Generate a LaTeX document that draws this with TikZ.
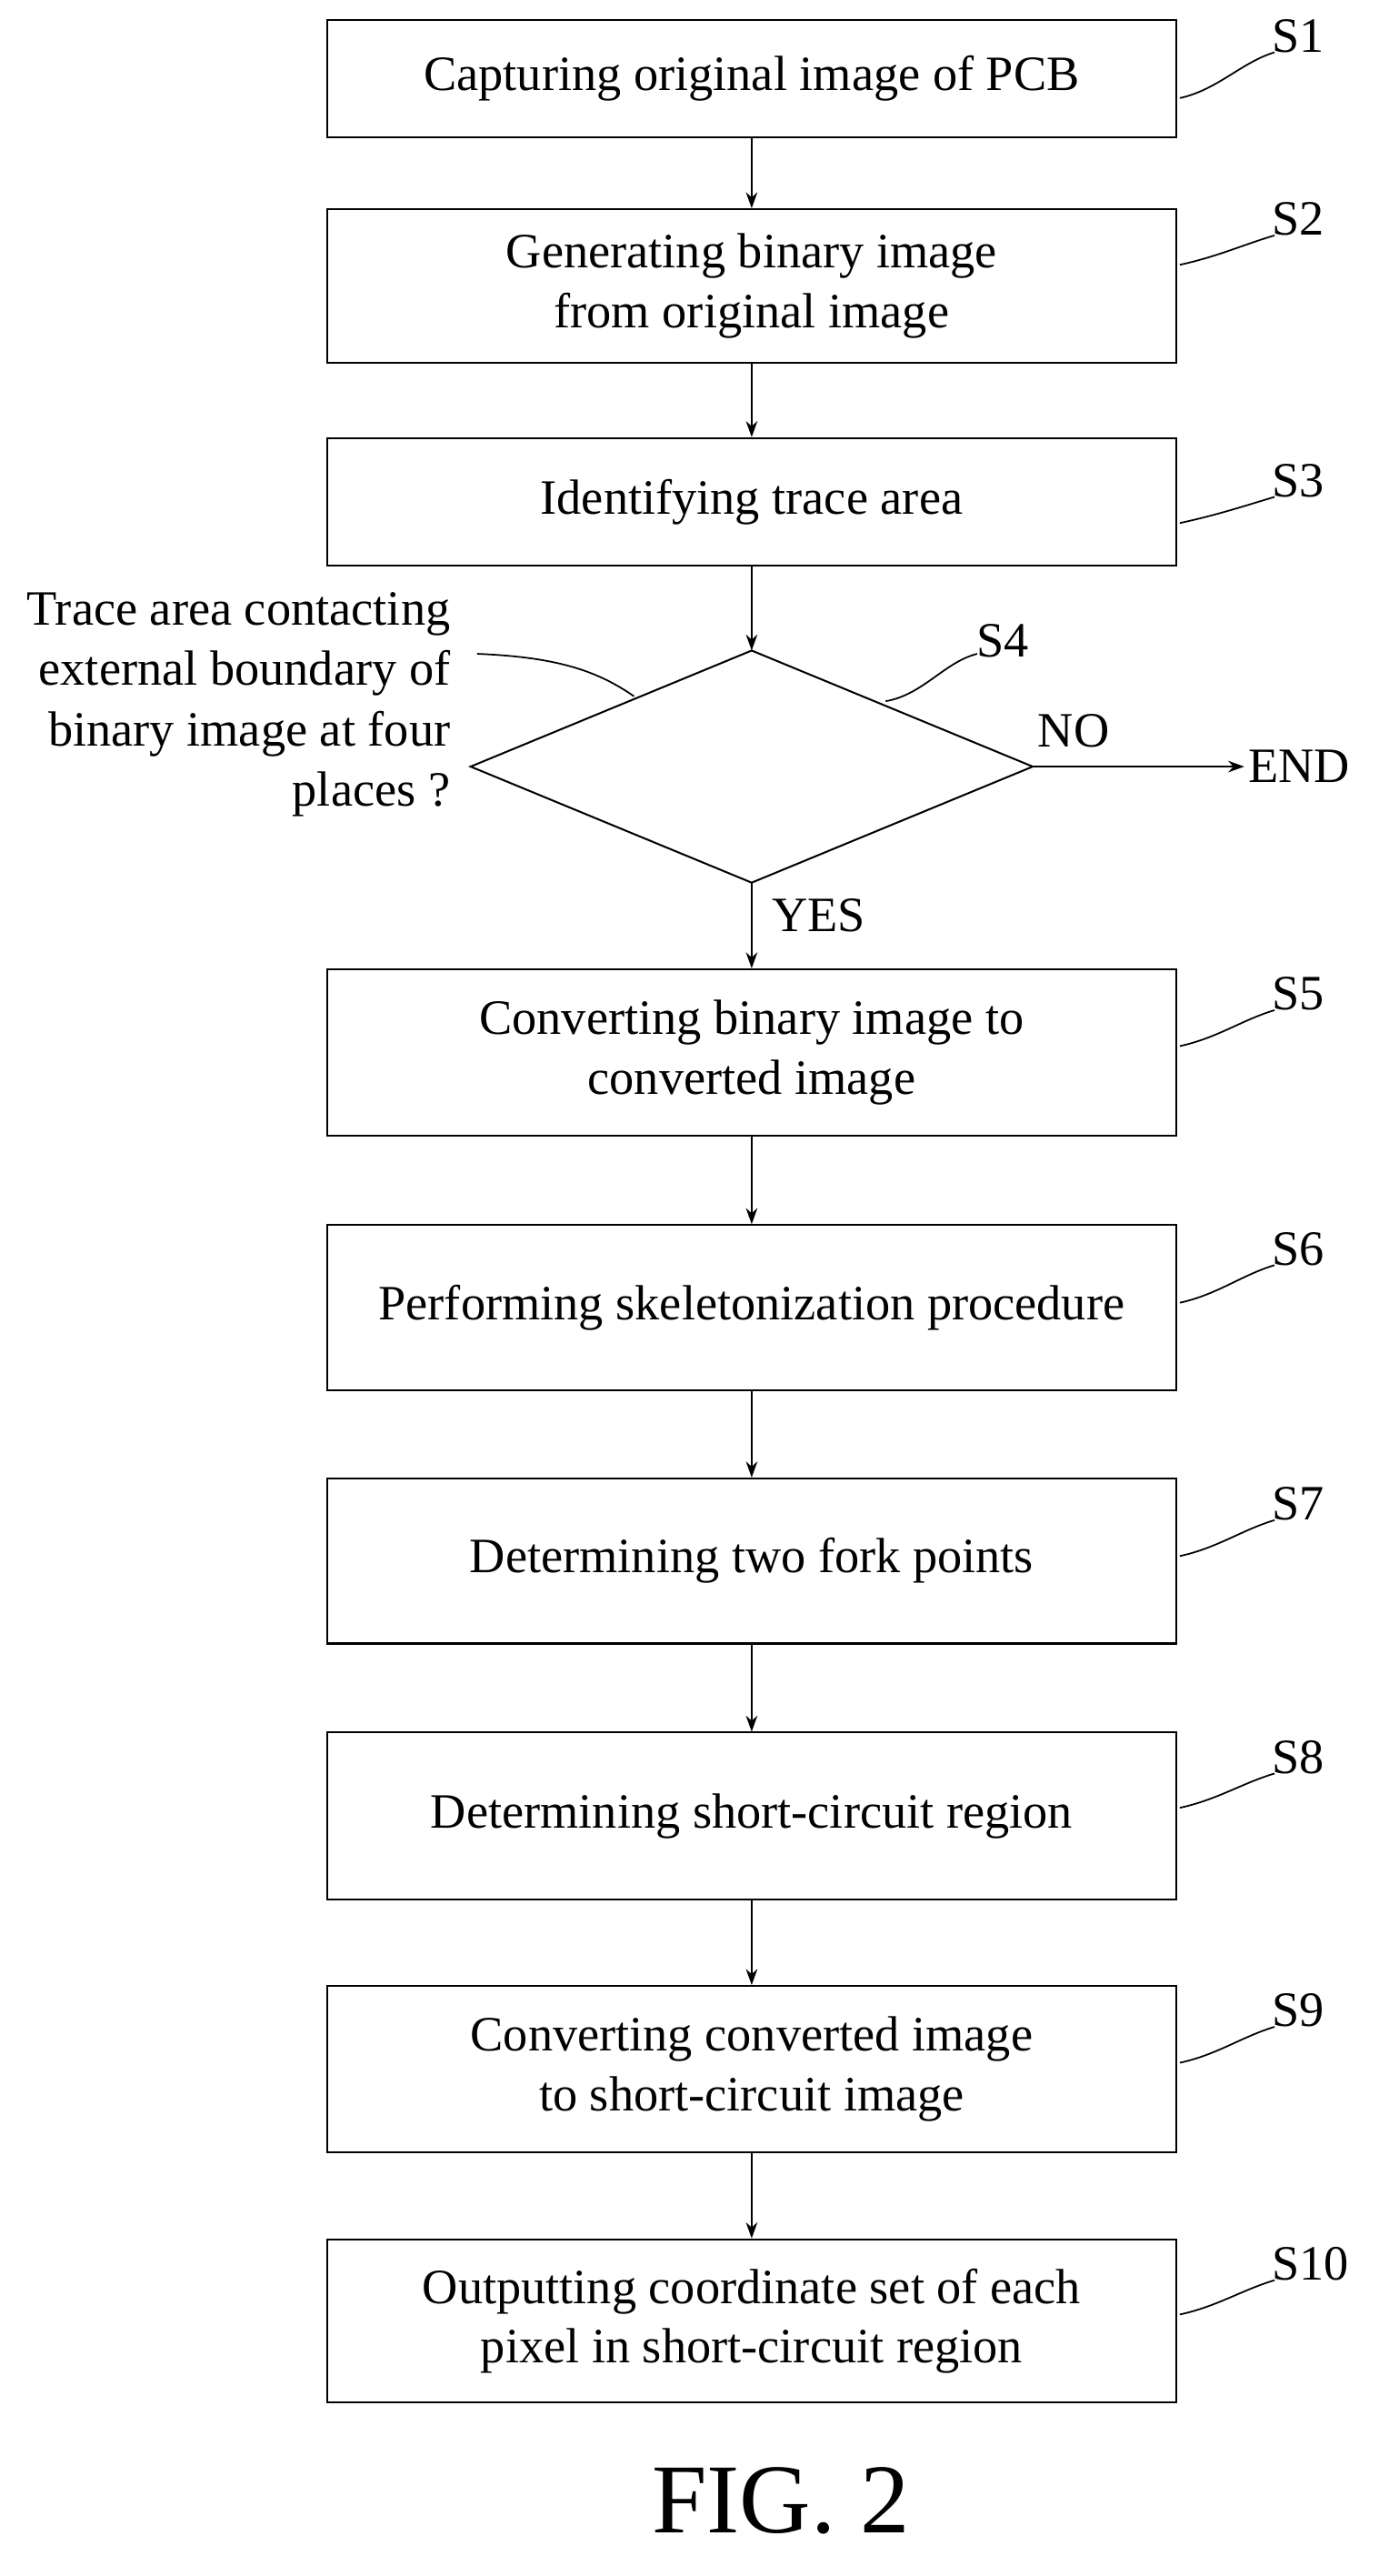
\documentclass[tikz,border=0pt]{standalone}
\usepackage{fontspec}
\setmainfont{Liberation Serif}
\usetikzlibrary{shapes.geometric,arrows.meta}
\begin{document}
\begin{tikzpicture}[x=0.05cm,y=-0.05cm,
  every node/.style={font=\fontsize{43}{52}\selectfont},
  box/.style={draw,line width=1.6pt,minimum width=26cm,align=center,inner sep=0pt},
  arr/.style={line width=1.4pt,-{Stealth[length=14pt,width=10pt]}},
  lead/.style={line width=1.4pt}]
\useasboundingbox (0,0) rectangle (850,1576);
\node[box,minimum height=3.6cm] (s1) at (460,48) {Capturing original image of PCB};
\node[box,minimum height=4.7cm] (s2) at (460,175) {Generating binary image\\from original image};
\node[box,minimum height=3.9cm] (s3) at (460,307) {Identifying trace area};
\coordinate (dt) at (460,398); \coordinate (db) at (460,540);
\coordinate (dl) at (288,469); \coordinate (dr) at (632,469);
\draw[line width=1.6pt] (dt) -- (dr) -- (db) -- (dl) -- cycle;
\node[box,minimum height=5.1cm] (s5) at (460,644) {Converting binary image to\\converted image};
\node[box,minimum height=5.05cm] (s6) at (460,800) {Performing skeletonization procedure};
\node[box,minimum height=5.05cm] (s7) at (460,955) {Determining two fork points};
\node[box,minimum height=5.1cm] (s8) at (460,1111) {Determining short-circuit region};
\node[box,minimum height=5.1cm] (s9) at (460,1266) {Converting converted image\\to short-circuit image};
\node[box,minimum height=5cm] (s10) at (460,1420) {Outputting coordinate set of each\\pixel in short-circuit region};
\draw[arr] (s1) -- (s2);
\draw[arr] (s2) -- (s3);
\draw[arr] (s3) -- (dt);
\draw[arr] (db) -- (s5);
\draw[arr] (s5) -- (s6);
\draw[arr] (s6) -- (s7);
\draw[arr] (s7) -- (s8);
\draw[arr] (s8) -- (s9);
\draw[arr] (s9) -- (s10);
\node (end) at (795,469) {END};
\draw[arr] (dr) -- (end.west);
\node at (657,447) {NO};
\node at (501,560) {YES};
\node[align=right,anchor=east,font=\fontsize{43}{52.5}\selectfont] (q) at (278,431) {Trace area contacting\\external boundary of\\binary image at four\\places ?};
\coordinate (qa) at (292,400); \coordinate (qb) at (388,426);
\draw[lead] (qa) .. controls (340,402) and (365,410) .. (qb);
\foreach \n/\y/\ly in {1/60/22,2/162/134,3/320/294,5/640/608,6/797/764,7/952/920,8/1106/1075,9/1262/1230,10/1416/1385}{
  \node[anchor=west] (l\n) at (776,\ly) {S\n};
  \coordinate (c\n) at (722,\y);
  \draw[lead] (c\n) .. controls (745,\y-5) and (760,\ly+16) .. (780,\ly+10);
}
\node[anchor=west] (l4) at (595,392) {S4};
\coordinate (c4) at (542,429);
\draw[lead] (c4) .. controls (565,425) and (578,405) .. (598,400);
\node[font=\fontsize{86}{100}\selectfont] (fig) at (478,1530) {FIG. 2};
\end{tikzpicture}
\end{document}
